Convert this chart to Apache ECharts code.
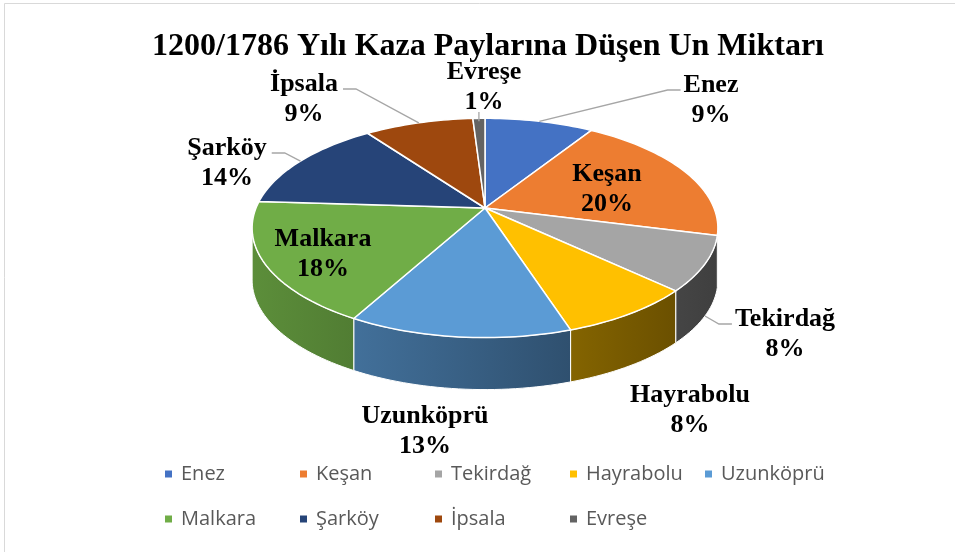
<!DOCTYPE html>
<html>
<head>
<meta charset="utf-8">
<script src="https://cdn.jsdelivr.net/npm/echarts@6/dist/echarts.min.js"></script>
<style>
  html, body { margin: 0; padding: 0; background: #fff; }
  #main { width: 955px; height: 552px; }
</style>
</head>
<body>
<div id="main"></div>
<script>
var categories = ['Enez', 'Keşan', 'Tekirdağ', 'Hayrabolu', 'Uzunköprü', 'Malkara', 'Şarköy', 'İpsala', 'Evreşe'];
var shares = [9, 20, 8, 8, 13, 18, 14, 9, 1];
var sliceColors = ['#4472c4', '#ed7d31', '#a5a5a5', '#ffc000', '#5b9bd5', '#70ad47', '#264478', '#9e480e', '#636363'];

// where Excel put the data labels ("best fit"), and which side the leader line comes in from
var labelAt = [[711, 100], [607, 189], [785, 334], [690, 410], [425, 431], [323, 254], [227, 163], [304, 99], [484, 87]];
var leaderSide = ['left', null, 'left', null, null, null, 'right', 'right', 'below'];

// 3d pie geometry (perspective tilt)
var CX = 485, CY = 208, RX = 229, RY = 106, PERSP = 0.182, DEPTH = 52;

var total = shares.reduce(function (a, b) { return a + b; }, 0);
var cum = [0];
shares.forEach(function (v, i) { cum.push(cum[i] + v); });

function project(deg, drop) {
    var a = deg * Math.PI / 180;
    var u = Math.sin(a), v = -Math.cos(a);
    var s = 1 / (1 - PERSP * v);
    return [CX + RX * u * s, CY + RY * v * s + (drop || 0)];
}
// side wall only visible between the two silhouette points
var WALL_FROM = Math.acos(-PERSP) * 180 / Math.PI;
var WALL_TO = 360 - WALL_FROM;

function shade(hex, f) {
    var r = parseInt(hex.substr(1, 2), 16), g = parseInt(hex.substr(3, 2), 16), b = parseInt(hex.substr(5, 2), 16);
    return 'rgb(' + Math.round(r * f) + ',' + Math.round(g * f) + ',' + Math.round(b * f) + ')';
}
function wallFactor(x) {
    return Math.max(0.35, Math.min(0.9, 0.82 - (x - 254) / 463 * 0.44));
}

var LABEL_FONT = 'bold 26px "Liberation Serif"';
var measureCtx = document.createElement('canvas').getContext('2d');
function textW(t) {
    measureCtx.font = LABEL_FONT;
    return measureCtx.measureText(t).width;
}

function renderSlice(params, api) {
    var i = params.dataIndex;
    var a0 = cum[i] / total * 360, a1 = cum[i + 1] / total * 360;
    var children = [];

    // top face
    var top = [[CX, CY]];
    var n = Math.max(2, Math.ceil((a1 - a0) / 1.5));
    for (var k = 0; k <= n; k++) top.push(project(a0 + (a1 - a0) * k / n));
    children.push({
        type: 'polygon', z2: 10,
        shape: {points: top},
        style: {fill: sliceColors[i], stroke: '#fff', lineWidth: 1.5, lineJoin: 'round'}
    });

    // side wall
    var w0 = Math.max(a0, WALL_FROM), w1 = Math.min(a1, WALL_TO);
    if (w1 > w0) {
        var up = [], down = [];
        var m = Math.max(2, Math.ceil((w1 - w0) / 1.5));
        for (var j = 0; j <= m; j++) {
            var a = w0 + (w1 - w0) * j / m;
            up.push(project(a));
            down.unshift(project(a, DEPTH));
        }
        var xs = up.map(function (p) { return p[0]; });
        var xl = Math.min.apply(null, xs), xr = Math.max.apply(null, xs);
        children.push({
            type: 'polygon', z2: 1,
            shape: {points: up.concat(down)},
            style: {
                fill: {
                    type: 'linear', x: xl, y: 0, x2: xr, y2: 0, global: true,
                    colorStops: [
                        {offset: 0, color: shade(sliceColors[i], wallFactor(xl))},
                        {offset: 1, color: shade(sliceColors[i], wallFactor(xr))}
                    ]
                },
                stroke: '#fff', lineWidth: 1
            }
        });
    }

    // label
    var lp = labelAt[i];
    var pct = Math.round(shares[i] / total * 100) + '%';
    children.push({
        type: 'text', z2: 20, x: lp[0], y: lp[1],
        style: {
            text: categories[i] + '\n' + pct, font: LABEL_FONT, fill: '#000',
            align: 'center', verticalAlign: 'middle', lineHeight: 30
        }
    });

    // leader line
    var side = leaderSide[i];
    if (side) {
        var mid = (a0 + a1) / 2;
        var s = (mid > WALL_FROM && mid < WALL_TO) ? project(mid, DEPTH) : project(mid);
        var pts;
        if (side === 'below') {
            pts = [[s[0], lp[1] + 25], [s[0], s[1] + 3]];
        } else {
            var half = textW(categories[i]) / 2;
            var ey = lp[1] - 10;
            if (side === 'left') {
                var ex = lp[0] - half - 3;
                pts = [s, [ex - 13, ey], [ex, ey]];
            } else {
                var ex2 = lp[0] + half + 5;
                pts = [s, [ex2 + 13, ey], [ex2, ey]];
            }
        }
        children.push({
            type: 'polyline', z2: 20,
            shape: {points: pts},
            style: {stroke: '#a6a6a6', lineWidth: 1.3, fill: null}
        });
    }

    return {type: 'group', children: children};
}

var legends = categories.map(function (name, i) {
    var col = i % 5, row = Math.floor(i / 5);
    return {
        data: [name],
        left: 165 + col * 135,
        top: row === 0 ? 462 : 507,
        padding: 0,
        selectedMode: false,
        icon: 'rect',
        itemWidth: 7,
        itemHeight: 7,
        textStyle: {fontFamily: 'Open Sans', fontSize: 20, color: '#595959', lineHeight: 24, padding: [0, 0, 0, 4]}
    };
});

var chart = echarts.init(document.getElementById('main'));
var option = {
    backgroundColor: '#fff',
    animation: false,
    color: sliceColors,
    title: {
        text: '1200/1786 Yılı Kaza Paylarına Düşen Un Miktarı',
        left: 152,
        top: 31,
        padding: 0,
        textStyle: {fontFamily: 'Liberation Serif', fontWeight: 'bold', fontSize: 32, color: '#000'}
    },
    legend: legends,
    graphic: [{
        type: 'polyline',
        shape: {points: [[4.5, 552], [4.5, 3.5], [955, 3.5]]},
        style: {stroke: '#d9d9d9', lineWidth: 1, fill: null},
        silent: true
    }],
    series: [
        {
            type: 'custom',
            name: 'Un',
            coordinateSystem: 'none',
            renderItem: renderSlice,
            data: shares.map(function (v, i) { return {name: categories[i], value: v}; })
        },
        {
            // only feeds the legend swatches
            type: 'pie',
            radius: [0, 0],
            silent: true,
            label: {show: false},
            labelLine: {show: false},
            data: shares.map(function (v, i) { return {name: categories[i], value: v}; })
        }
    ]
};
chart.setOption(option);
</script>
</body>
</html>
